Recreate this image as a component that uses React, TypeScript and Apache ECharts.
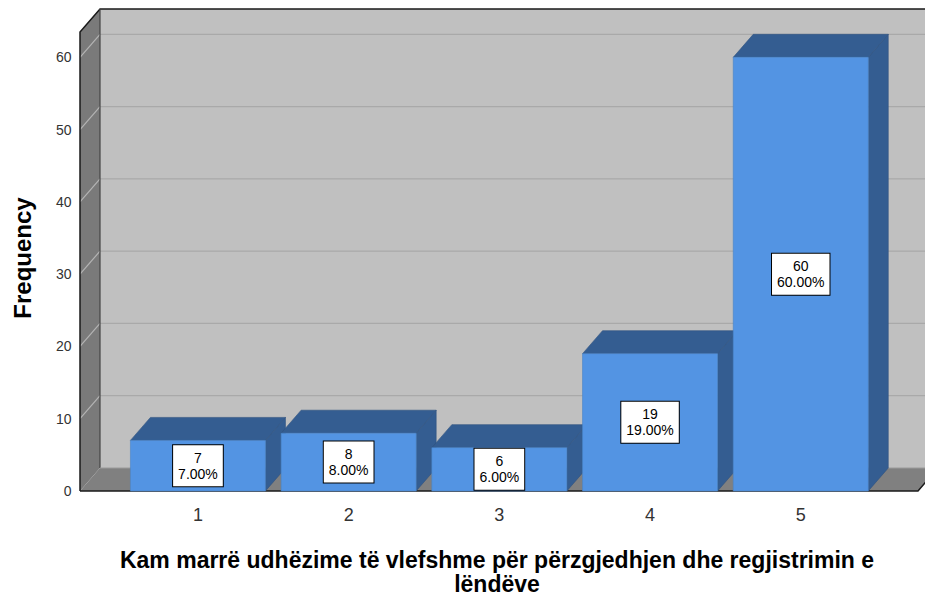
import React, { useEffect, useRef } from "react";
import * as echarts from "echarts";

const categories = ["1", "2", "3", "4", "5"];
const frequencies = [7, 8, 6, 19, 60];
const percentLabels = ["7.00%", "8.00%", "6.00%", "19.00%", "60.00%"];
const yTicks = [0, 10, 20, 30, 40, 50, 60];
const yAxisTitle = "Frequency";
const xAxisTitleLines = [
  "Kam marrë udhëzime të vlefshme për përzgjedhjen dhe regjistrimin e",
  "lëndëve",
];

const DX = 20;
const DY = -23;
const FONT = "'Liberation Sans', Arial, sans-serif";

export default function App() {
  const ref = useRef<HTMLDivElement>(null);
  useEffect(() => {
    if (!ref.current) return;
    const chart = echarts.init(ref.current, null, { renderer: "svg" });
    const Y_MAX = 63.5;
    const option: any = {
      animation: false,
      backgroundColor: "#ffffff",
      grid: { left: 122.6, right: 48.9, top: 32, bottom: 110 },
      xAxis: {
        type: "category",
        data: categories,
        boundaryGap: true,
        axisLine: { show: false },
        axisTick: { show: false },
        axisLabel: { fontSize: 18, color: "#333", margin: 15, fontFamily: FONT },
        splitLine: { show: false },
      },
      yAxis: {
        type: "value",
        min: 0,
        max: Y_MAX,
        interval: 10,
        axisLine: { show: false },
        axisTick: { show: false },
        splitLine: { show: false },
        axisLabel: {
          fontSize: 14,
          color: "#333",
          margin: 51,
          fontFamily: FONT,
          formatter: (v: number) => (yTicks.indexOf(v) >= 0 ? String(v) : ""),
        },
      },
      graphic: [
        {
          type: "text",
          x: 22,
          y: 258,
          rotation: Math.PI / 2,
          style: {
            text: yAxisTitle,
            font: `bold 24px ${FONT}`,
            fill: "#000",
            align: "center",
            verticalAlign: "middle",
          },
        },
        ...xAxisTitleLines.map((line, k) => ({
          type: "text",
          x: 497,
          y: 560 + k * 24,
          style: {
            text: line,
            font: `bold 23px ${FONT}`,
            fill: "#000",
            align: "center",
            verticalAlign: "middle",
            lineHeight: 22,
          },
        })),
      ],
      series: [
        {
          type: "custom",
          clip: false,
          silent: true,
          z: 1,
          data: [[0, 0]],
          renderItem: (params: any, api: any) => {
            const y0 = api.coord([0, 0])[1];
            const yTop = api.coord([0, Y_MAX])[1];
            const xL = 80;
            const xR = 918;
            const children: any[] = [];
            children.push({
              type: "rect",
              shape: { x: xL + DX, y: yTop + DY, width: 925 - xL - DX, height: y0 - yTop },
              style: { fill: "#c0c0c0", stroke: null },
            });
            children.push({
              type: "polygon",
              shape: { points: [[xL, y0], [xR, y0], [xR + DX, y0 + DY], [xL + DX, y0 + DY]] },
              style: { fill: "#808080", stroke: null },
            });
            children.push({
              type: "polygon",
              shape: { points: [[xL, y0], [xL, yTop], [xL + DX, yTop + DY], [xL + DX, y0 + DY]] },
              style: { fill: "#7a7a7a", stroke: null },
            });
            yTicks.forEach((t) => {
              if (t === 0) return;
              const y = api.coord([0, t])[1];
              children.push({
                type: "line",
                shape: { x1: xL + DX, y1: y + DY, x2: 925, y2: y + DY },
                style: { stroke: "#a9a9a9", lineWidth: 1.2 },
              });
              children.push({
                type: "line",
                shape: { x1: xL, y1: y, x2: xL + DX, y2: y + DY },
                style: { stroke: "#b4b4b4", lineWidth: 1.2 },
              });
            });
            children.push({
              type: "polyline",
              shape: { points: [[xL, y0], [xL, yTop], [xL + DX, yTop + DY], [925, yTop + DY]] },
              style: { stroke: "#1a1a1a", lineWidth: 1.5, fill: null },
            });
            children.push({
              type: "line",
              shape: { x1: xL + DX, y1: yTop + DY, x2: xL + DX, y2: y0 + DY },
              style: { stroke: "#444", lineWidth: 1.2 },
            });
            children.push({
              type: "polyline",
              shape: { points: [[xL, y0], [xR, y0], [xR + DX, y0 + DY]] },
              style: { stroke: "#1a1a1a", lineWidth: 1.5, fill: null },
            });
            children.push({
              type: "line",
              shape: { x1: xL + DX, y1: y0 + DY, x2: 925, y2: y0 + DY },
              style: { stroke: "#9a9a9a", lineWidth: 1 },
            });
            return { type: "group", children };
          },
        },
        {
          type: "custom",
          clip: false,
          z: 2,
          data: frequencies.map((v, i) => [i, v]),
          renderItem: (params: any, api: any) => {
            const i = api.value(0);
            const v = api.value(1);
            const top = api.coord([i, v]);
            const base = api.coord([i, 0]);
            const band = api.size([1, 0])[0];
            const w = band * 0.896;
            const xl = top[0] - w / 2;
            const xr = top[0] + w / 2;
            const yv = top[1];
            const y0 = base[1];
            const idx = params.dataIndex;
            return {
              type: "group",
              children: [
                {
                  type: "polygon",
                  shape: { points: [[xr, yv], [xr + DX, yv + DY], [xr + DX, y0 + DY], [xr, y0]] },
                  style: { fill: "#345d91", stroke: "#2f5380", lineWidth: 0.6 },
                },
                {
                  type: "polygon",
                  shape: { points: [[xl, yv], [xr, yv], [xr + DX, yv + DY], [xl + DX, yv + DY]] },
                  style: { fill: "#345d91", stroke: "#2f5380", lineWidth: 0.6 },
                },
                {
                  type: "rect",
                  shape: { x: xl, y: yv, width: w, height: y0 - yv },
                  style: { fill: "#5394e3", stroke: "#4a84c8", lineWidth: 0.6 },
                },
                {
                  type: "text",
                  x: top[0],
                  y: (yv + y0) / 2,
                  style: {
                    text: `${v}\n${percentLabels[idx]}`,
                    font: `14px ${FONT}`,
                    fill: "#000",
                    align: "center",
                    verticalAlign: "middle",
                    lineHeight: 16,
                    backgroundColor: "#ffffff",
                    borderColor: "#000",
                    borderWidth: 1,
                    padding: [5, 5, 4, 5],
                  },
                },
              ],
            };
          },
        },
      ],
    };
    chart.setOption(option);
    return () => chart.dispose();
  }, []);
  return (
    <div
      ref={ref}
      style={{ position: "absolute", left: 0, top: 0, width: 925, height: 601 }}
    />
  );
}
